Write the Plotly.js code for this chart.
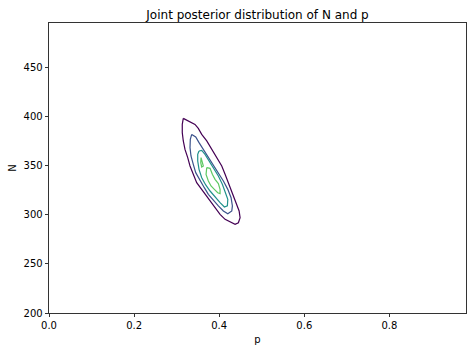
<!DOCTYPE html>
<html>
<head>
<meta charset="utf-8">
<script src="https://cdn.plot.ly/plotly-3.0.1.min.js"></script>
<style>html,body{margin:0;padding:0;background:#fff;}#chart{width:472px;height:352px;}</style>
</head>
<body>
<div id="chart"></div>
<script>
// Contour lines of the joint posterior (p, N)
var level1_p = [0.3156,0.3314,0.3431,0.3509,0.3589,0.3707,0.3825,0.3942,0.4060,0.4138,0.4216,0.4296,0.4357,0.4414,0.4468,0.4491,0.4451,0.4373,0.4256,0.4138,0.4020,0.3902,0.3785,0.3667,0.3573,0.3471,0.3391,0.3314,0.3260,0.3196,0.3156,0.3132,0.3132];
var level1_N = [398.3,395.0,392.2,388.1,382.0,375.3,366.7,358.3,349.8,341.3,332.8,324.3,317.5,310.7,304.0,297.1,292.0,290.3,292.7,295.4,300.5,307.3,314.1,320.3,326.0,332.8,341.3,349.8,358.3,366.7,375.3,383.8,392.2];

var level2_p = [0.3354,0.3448,0.3526,0.3627,0.3745,0.3862,0.3980,0.4098,0.4202,0.4279,0.4310,0.4296,0.4202,0.4098,0.3980,0.3862,0.3745,0.3650,0.3549,0.3448,0.3391,0.3337,0.3314,0.3321];
var level2_N = [382.0,379.4,373.6,366.7,360.0,351.4,343.0,334.5,326.0,317.5,309.1,304.0,301.2,304.0,309.1,314.8,320.9,327.7,335.1,343.0,351.4,360.0,368.5,376.9];

var level3_p = [0.3526,0.3589,0.3667,0.3761,0.3862,0.3980,0.4074,0.4154,0.4202,0.4192,0.4122,0.4020,0.3902,0.3785,0.3683,0.3589,0.3526,0.3495,0.3495];
var level3_N = [365.1,365.7,361.6,354.9,348.1,339.6,331.1,322.6,315.8,309.1,308.0,312.4,318.2,324.3,330.5,337.9,346.4,354.9,361.6];

var level4a_p = [0.3573,0.3627,0.3589,0.3566];
var level4a_N = [358.3,349.8,348.8,353.2];
var level4b_p = [0.3707,0.3785,0.3839,0.3902,0.3980,0.4020,0.4020,0.3966,0.3886,0.3808,0.3745,0.3691];
var level4b_N = [348.1,347.4,341.3,336.2,331.8,326.0,321.6,322.6,326.0,329.4,334.5,341.3];

var levelColors = ['#440154', '#3b528b', '#21918c', '#5ec962'];
var xTickVals = [0, 0.2, 0.4, 0.6, 0.8];
var yTickVals = [200, 250, 300, 350, 400, 450];

function closed(a) { return a.concat([a[0]]); }
function line(px, py, color) {
  return {x: closed(px), y: closed(py), type: 'scatter', mode: 'lines',
          line: {color: color, width: 1.2}, hoverinfo: 'skip', showlegend: false};
}
var traces = [
  line(level1_p, level1_N, levelColors[0]),
  line(level2_p, level2_N, levelColors[1]),
  line(level3_p, level3_N, levelColors[2]),
  line(level4a_p, level4a_N, levelColors[3]),
  line(level4b_p, level4b_N, levelColors[3])
];

var font = {family: 'DejaVu Sans, sans-serif', size: 10, color: '#000'};
var layout = {
  width: 472, height: 352,
  margin: {l: 49.3, r: 6.3, t: 23, b: 38.7, pad: 0},
  paper_bgcolor: '#fff', plot_bgcolor: '#fff',
  font: font,
  showlegend: false,
  title: {text: 'Joint posterior distribution of N and p', x: 0.5, xref: 'paper', y: 1, yref: 'paper', yanchor: 'bottom', pad: {b: 4}, font: {family: 'DejaVu Sans, sans-serif', size: 12, color: '#000'}},
  xaxis: {range: [0, 0.98], tickvals: xTickVals, tickformat: '.1f', ticks: 'outside', ticklen: 3.5, tickwidth: 0.8, tickcolor: '#000',
          showline: true, linecolor: '#000', linewidth: 0.8, mirror: true, showgrid: false, zeroline: false,
          title: {text: 'p', font: font, standoff: 5}, tickfont: font},
  yaxis: {range: [200, 495.5], tickvals: yTickVals, ticks: 'outside', ticklen: 3.5, tickwidth: 0.8, tickcolor: '#000',
          showline: true, linecolor: '#000', linewidth: 0.8, mirror: true, showgrid: false, zeroline: false,
          title: {text: 'N', font: font, standoff: 5}, tickfont: font}
};
Plotly.newPlot('chart', traces, layout, {staticPlot: true, displayModeBar: false});
</script>
</body>
</html>
